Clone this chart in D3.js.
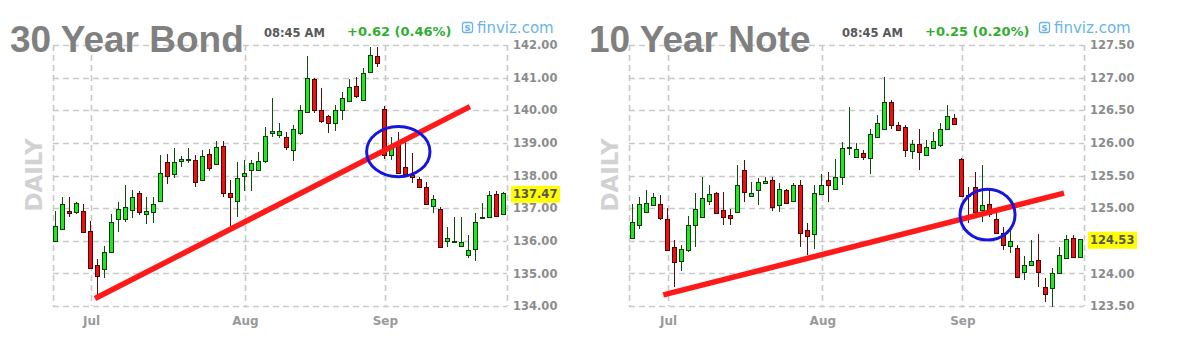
<!DOCTYPE html>
<html>
<head>
<meta charset="utf-8">
<script src="https://cdn.jsdelivr.net/npm/d3@7"></script>
<style>
  html, body { margin: 0; padding: 0; background: #ffffff; }
  svg { display: block; }
</style>
</head>
<body>
<svg id="chart" width="1189" height="360"></svg>
<script>
// ---------------- DATA ----------------
const monthNames = ['Jul', 'Aug', 'Sep'];
const monthFirstIndex = [5, 27, 47];

const bondTitle = '30 Year Bond';
const bondTime = '08:45 AM';
const bondChange = '+0.62 (0.46%)';
const bondTicks = [134, 135, 136, 137, 138, 139, 140, 141, 142];
const bondOpen = [136.00,136.36,136.91,136.89,136.90,136.31,135.27,135.15,135.66,136.65,136.68,136.95,137.45,136.82,136.86,137.22,138.40,138.04,138.44,138.47,138.49,137.86,138.66,138.37,138.90,137.46,137.22,138.00,138.15,138.17,138.44,139.30,139.26,139.19,138.78,139.32,139.95,140.96,140.01,139.82,139.60,140.01,140.29,140.75,140.33,141.18,141.66,140.03,138.63,138.98,138.27,138.01,137.88,137.65,137.07,136.96,135.97,135.98,135.84,135.58,135.76,136.69,136.73,137.43,136.84];
const bondHigh = [136.91,137.34,137.34,137.18,137.12,136.60,135.44,135.83,136.82,137.19,137.72,137.57,137.51,137.34,137.35,138.63,138.66,138.84,138.61,138.83,138.63,138.78,138.81,139.06,139.06,137.86,138.42,138.47,138.49,138.73,139.49,140.37,139.60,139.34,139.55,140.16,141.66,140.99,140.67,139.85,140.16,140.57,140.95,141.03,141.29,141.93,141.93,140.13,139.17,139.34,139.14,138.68,137.96,137.81,137.40,137.04,136.43,136.73,136.73,136.17,136.84,137.16,137.53,137.53,137.50];
const bondLow = [135.98,136.35,136.72,136.82,136.23,135.17,134.30,134.85,135.65,136.26,136.57,136.69,136.79,136.51,136.55,137.21,137.74,137.92,138.27,138.37,137.65,137.84,138.14,138.35,137.35,136.45,136.72,137.53,137.53,138.13,138.37,139.17,139.14,138.78,138.45,139.24,139.94,139.92,139.60,139.31,139.37,139.70,140.28,140.37,140.33,141.17,141.33,138.52,138.47,138.07,137.96,137.76,137.64,137.11,136.84,135.78,135.81,135.92,135.81,135.46,135.38,136.68,136.72,136.74,136.83];
const bondClose = [136.46,137.12,136.85,137.16,136.26,135.19,134.92,135.66,136.58,136.96,137.04,137.34,136.86,136.91,137.12,138.08,137.96,138.40,138.50,138.50,137.81,138.60,138.22,138.88,137.45,137.35,137.91,138.09,138.37,138.45,139.22,139.36,139.37,138.88,139.41,140.01,140.98,140.01,139.68,139.60,140.01,140.37,140.72,140.44,141.15,141.69,141.46,138.63,138.83,138.08,138.06,137.94,137.65,137.12,137.27,135.79,136.07,136.00,135.97,135.73,136.58,136.73,137.40,136.75,137.47];
const bondTrend = [{i: 5.7, p: 134.23}, {i: 59.3, p: 140.11}];
const bondCircle = {i: 49.06, p: 138.73, ri: 4.53, rp: 0.77};

const noteTitle = '10 Year Note';
const noteTime = '08:45 AM';
const noteChange = '+0.25 (0.20%)';
const noteTicks = [123.5, 124.0, 124.5, 125.0, 125.5, 126.0, 126.5, 127.0, 127.5];
const noteOpen = [124.54,124.74,124.94,125.05,125.06,124.84,124.41,124.18,124.36,124.74,124.87,125.10,125.23,124.97,124.90,124.94,125.58,125.18,125.28,125.38,125.43,125.06,125.28,125.11,125.35,124.67,124.60,125.21,125.43,125.30,125.48,125.92,125.78,125.84,125.76,126.09,126.21,126.63,126.27,126.25,125.89,125.99,125.81,125.93,125.97,126.21,126.38,125.75,125.20,125.33,124.97,125.06,124.84,124.62,124.41,124.39,124.02,124.13,124.20,123.79,123.77,124.00,124.23,124.54,124.25];
const noteHigh = [125.06,125.17,125.28,125.23,125.20,125.00,124.51,124.43,124.88,125.23,125.48,125.35,125.24,125.25,124.98,125.66,125.74,125.40,125.46,125.48,125.47,125.38,125.30,125.38,125.43,124.77,125.35,125.53,125.56,125.76,126.02,126.55,126.00,125.89,126.22,126.43,127.01,126.66,126.32,126.27,126.04,126.22,126.05,126.17,126.30,126.58,126.45,125.77,125.33,125.56,125.66,125.31,124.92,124.71,124.69,124.43,124.26,124.51,124.61,123.93,124.08,124.40,124.59,124.59,124.53];
const noteLow = [124.53,124.68,124.94,125.03,124.82,124.35,123.79,124.03,124.33,124.41,124.86,125.05,124.91,124.74,124.74,124.93,125.10,125.17,125.05,125.37,124.96,124.94,125.07,125.10,124.41,124.28,124.38,125.20,125.10,125.29,125.35,125.81,125.77,125.74,125.53,126.09,126.20,126.22,126.19,125.78,125.76,125.58,125.80,125.92,125.94,126.20,126.27,125.17,124.77,124.89,124.79,124.86,124.60,124.36,124.31,123.94,123.90,124.11,123.79,123.56,123.49,123.99,124.22,124.23,124.25];
const noteClose = [124.79,125.06,125.08,125.17,124.84,124.36,124.18,124.37,124.74,124.98,125.16,125.21,124.92,124.87,124.85,125.35,125.25,125.23,125.40,125.41,125.01,125.30,125.08,125.35,124.62,124.58,125.23,125.35,125.35,125.48,125.92,125.94,125.90,125.78,126.13,126.30,126.62,126.27,126.20,125.89,125.99,125.86,125.93,126.03,126.21,126.41,126.29,125.18,125.18,124.94,125.05,124.91,124.62,124.44,124.49,123.95,124.13,124.19,124.01,123.69,124.00,124.28,124.52,124.25,124.53];
const noteTrend = [{i: 4.45, p: 123.67}, {i: 61.65, p: 125.23}];
const noteCircle = {i: 50.73, p: 124.90, ri: 3.93, rp: 0.39};

// ---------------- LAYOUT / STYLE ----------------
const panels = [
  {
    title: bondTitle, time: bondTime, change: bondChange, ticks: bondTicks,
    open: bondOpen, high: bondHigh, low: bondLow, close: bondClose,
    trend: bondTrend, circle: bondCircle,
    left: 53, right: 507, top: 45, bottom: 306, xDom: [-0.3, 64.6],
    titleX: 10, timeX: 264, changeX: 347, siteX: 462, dailyX: 33.5
  },
  {
    title: noteTitle, time: noteTime, change: noteChange, ticks: noteTicks,
    open: noteOpen, high: noteHigh, low: noteLow, close: noteClose,
    trend: noteTrend, circle: noteCircle,
    left: 629, right: 1084, top: 45, bottom: 306, xDom: [-0.45, 64.5],
    titleX: 589, timeX: 842, changeX: 925, siteX: 1039, dailyX: 610
  }
];

const svg = d3.select('#chart');
const smallFont = '"DejaVu Sans", Verdana, sans-serif';
const titleFont = '"Liberation Sans", Arial, Helvetica, sans-serif';

panels.forEach(P => {
  const g = svg.append('g');
  const x = d3.scaleLinear().domain(P.xDom).range([P.left, P.right]);
  const y = d3.scaleLinear().domain([P.ticks[0], P.ticks[P.ticks.length - 1]]).range([P.bottom, P.top]);
  const fmt = d3.format('.2f');

  // horizontal grid (includes top/bottom border)
  g.append('g').selectAll('line').data(P.ticks).join('line')
    .attr('x1', P.left).attr('x2', P.right)
    .attr('y1', d => Math.round(y(d)) + 0.5).attr('y2', d => Math.round(y(d)) + 0.5)
    .attr('stroke', '#c9c9c9').attr('stroke-width', 1.6).attr('stroke-dasharray', '6,4');

  // vertical grid: borders + month lines
  const vx = [P.left, P.right].concat(monthFirstIndex.map(i => x(i) + 1));
  g.append('g').selectAll('line').data(vx).join('line')
    .attr('x1', d => Math.round(d) + 0.5).attr('x2', d => Math.round(d) + 0.5)
    .attr('y1', P.top).attr('y2', P.bottom)
    .attr('stroke', '#c9c9c9').attr('stroke-width', 1.6).attr('stroke-dasharray', '6,4');

  // y axis labels
  const yAxis = d3.axisRight(y).tickValues(P.ticks).tickFormat(fmt).tickSize(0).tickPadding(6);
  const ya = g.append('g').attr('transform', `translate(${P.right},0)`).call(yAxis);
  ya.select('.domain').remove();
  ya.selectAll('text').attr('fill', '#8c8c8c').style('font-family', smallFont)
    .style('font-size', '11.5px').style('font-weight', 'bold');

  // month axis
  const xAxis = d3.axisBottom(x).tickValues(monthFirstIndex).tickFormat((d, k) => monthNames[k]).tickSize(0).tickPadding(10.5);
  const xa = g.append('g').attr('transform', `translate(1,${P.bottom})`).call(xAxis);
  xa.select('.domain').remove();
  xa.selectAll('text').attr('fill', '#9a9a9a').style('font-family', smallFont)
    .style('font-size', '12px').style('font-weight', 'bold');

  // candles
  const idx = d3.range(P.open.length);
  const up = i => P.close[i] >= P.open[i];
  const cg = g.append('g').attr('shape-rendering', 'crispEdges');
  cg.selectAll('line').data(idx).join('line')
    .attr('x1', i => Math.round(x(i)) + 0.5).attr('x2', i => Math.round(x(i)) + 0.5)
    .attr('y1', i => y(P.high[i])).attr('y2', i => y(P.low[i]))
    .attr('stroke', i => up(i) ? '#0f4d0f' : '#5a0b0b').attr('stroke-width', 1.2);
  cg.selectAll('rect').data(idx).join('rect')
    .attr('x', i => Math.round(x(i)) - 2 + 0.5)
    .attr('width', 4)
    .attr('y', i => Math.round(y(Math.max(P.open[i], P.close[i]))) + 0.5)
    .attr('height', i => Math.max(1, Math.round(Math.abs(y(P.open[i]) - y(P.close[i])))))
    .attr('fill', i => up(i) ? '#22e622' : '#ec1010')
    .attr('stroke', i => up(i) ? '#0d3d0d' : '#4a0606').attr('stroke-width', 1);

  // trend line
  g.append('line')
    .attr('x1', x(P.trend[0].i)).attr('y1', y(P.trend[0].p))
    .attr('x2', x(P.trend[1].i)).attr('y2', y(P.trend[1].p))
    .attr('stroke', '#ff1a1a').attr('stroke-width', 5.5);

  // circle
  const c = P.circle;
  g.append('ellipse')
    .attr('cx', x(c.i)).attr('cy', y(c.p))
    .attr('rx', x(c.i + c.ri) - x(c.i)).attr('ry', y(c.p - c.rp) - y(c.p))
    .attr('fill', 'none').attr('stroke', '#1515e0').attr('stroke-width', 3);

  // last price box
  const last = P.close[P.close.length - 1];
  const ly = y(last) + 1.5;
  g.append('rect').attr('x', P.right + 4).attr('y', ly - 8.5).attr('width', 49).attr('height', 17)
    .attr('fill', '#ffff00');
  g.append('text').attr('x', P.right + 6).attr('y', ly + 4.2).text(fmt(last))
    .attr('fill', '#555555').style('font-family', smallFont)
    .style('font-size', '11.5px').style('font-weight', 'bold');

  // title
  g.append('text').attr('x', P.titleX).attr('y', 52).text(P.title)
    .attr('fill', '#808080').style('font-family', titleFont)
    .style('font-size', '37px').style('font-weight', 'bold');

  // time
  g.append('text').attr('x', P.timeX).attr('y', 37).text(P.time)
    .attr('fill', '#585858').style('font-family', smallFont)
    .style('font-size', '11.5px').style('font-weight', 'bold');

  // change
  g.append('text').attr('x', P.changeX).attr('y', 35.5).text(P.change)
    .attr('fill', '#2fae2f').style('font-family', smallFont)
    .style('font-size', '13px').style('font-weight', 'bold');

  // finviz icon + text
  g.append('rect').attr('x', P.siteX + 0.5).attr('y', 22.5).attr('width', 10).attr('height', 10)
    .attr('rx', 2).attr('fill', 'none').attr('stroke', '#6ab4e6').attr('stroke-width', 1.3);
  g.append('text').attr('x', P.siteX + 5.5).attr('y', 31).text('s').attr('text-anchor', 'middle')
    .attr('fill', '#6ab4e6').style('font-family', smallFont).style('font-size', '10px').style('font-weight', 'bold');
  g.append('text').attr('x', P.siteX + 15).attr('y', 33).text('finviz.com')
    .attr('fill', '#6ab4e6').style('font-family', smallFont).style('font-size', '15px');

  // DAILY label
  g.append('text').attr('transform', `translate(${P.dailyX},175) rotate(-90)`)
    .attr('text-anchor', 'middle').attr('dy', '0.36em').text('DAILY')
    .attr('fill', '#d2d2d2').style('font-family', smallFont)
    .style('font-size', '23px').style('font-weight', 'bold');
});
</script>
</body>
</html>
